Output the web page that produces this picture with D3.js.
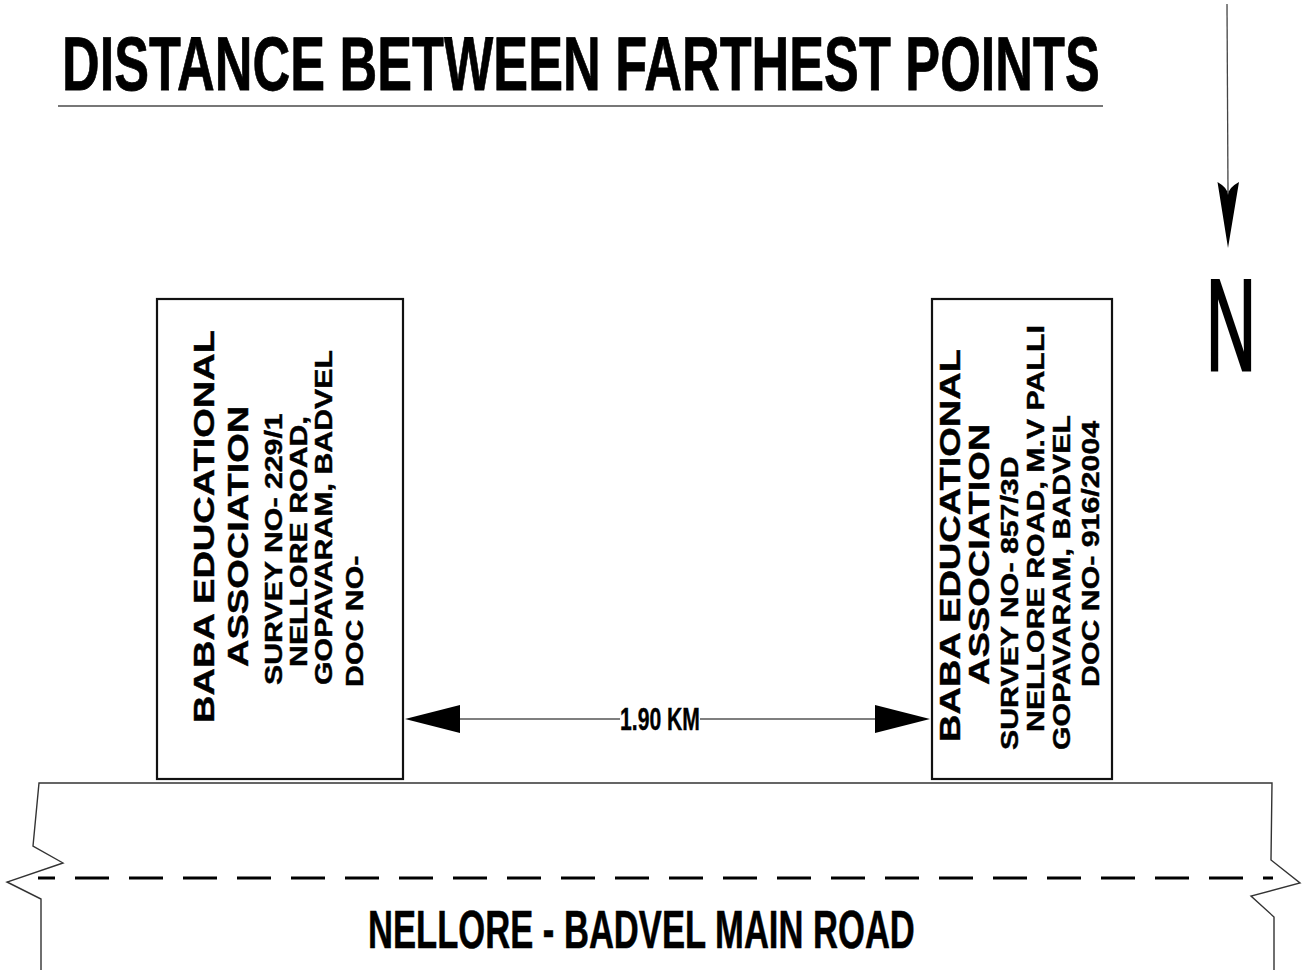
<!DOCTYPE html>
<html><head><meta charset="utf-8">
<script src="https://cdn.jsdelivr.net/npm/d3@7/dist/d3.min.js"></script>
<style>html,body{margin:0;padding:0;background:#fff}svg{display:block}</style>
</head><body>
<svg id="c" width="1305" height="973"></svg>
<script>
// ---------- data ----------
const titleText = "DISTANCE BETWEEN FARTHEST POINTS";
const plotNames = ["BABA EDUCATIONAL", "ASSOCIATION"];
const leftDetails = ["SURVEY NO- 229/1", "NELLORE ROAD,", "GOPAVARAM, BADVEL", "DOC NO-"];
const rightDetails = ["SURVEY NO- 857/3D", "NELLORE ROAD, M.V PALLI", "GOPAVARAM, BADVEL", "DOC NO- 916/2004"];
const distanceKm = [0, 1.90];
const distanceLabel = "1.90 KM";
const roadName = "NELLORE - BADVEL MAIN ROAD";
const northLabel = "N";

// ---------- layout ----------
const svg = d3.select("#c");
const FONT = "'Liberation Sans', Arial, Helvetica, sans-serif";

// distance scale: 0 km at right edge of left plot, 1.90 km at left edge of right plot
const x = d3.scaleLinear().domain(distanceKm).range([405, 930]);

// fit a text into a given width / cap height using a transform (condensed look)
function fitText(sel, t, x0, base, width, capH, weight) {
  const fs = 40;
  const node = sel.append("text")
    .attr("font-family", FONT).attr("font-weight", weight).attr("font-size", fs)
    .attr("fill", "#000").text(t);
  const w = node.node().getComputedTextLength();
  const sy = capH / (fs * 0.716);
  node.attr("transform", `translate(${x0},${base}) scale(${width / w},${sy})`);
  return node;
}

// title
fitText(svg, titleText, 62, 90, 1038, 55, "bold").attr("stroke", "#000").attr("stroke-width", 0.4);
svg.append("line").attr("x1", 58).attr("x2", 1103).attr("y1", 106).attr("y2", 106)
  .attr("stroke", "#777").attr("stroke-width", 2);

// north arrow
svg.append("line").attr("x1", 1227).attr("y1", 4).attr("x2", 1228).attr("y2", 192)
  .attr("stroke", "#444").attr("stroke-width", 1.3);
svg.append("path")
  .attr("d", "M1217.5,182 Q1228,188 1228,195 Q1228,188 1239,182 L1228,248 Z")
  .attr("fill", "#000");
fitText(svg, northLabel, 1206, 370, 50, 93, "normal").attr("stroke", "#000").attr("stroke-width", 0.9);

// plots (boxes)
const plots = [
  {x0: 157, x1: 403, lines: plotNames.concat(leftDetails),
   pos: [[214,723],[248,667],[282,685],[307,667],[332,685],[363,687]]},
  {x0: 932, x1: 1112, lines: plotNames.concat(rightDetails),
   pos: [[960,742],[989,685],[1018,750],[1044,732],[1070,750],[1099,687]]}
];
const boxTop = 299, boxBottom = 779;

plots.forEach(p => {
  svg.append("rect")
    .attr("x", p.x0).attr("y", boxTop)
    .attr("width", p.x1 - p.x0).attr("height", boxBottom - boxTop)
    .attr("fill", "none").attr("stroke", "#111").attr("stroke-width", 2.2);
  p.lines.forEach((t, i) => {
    const big = i < 2;
    svg.append("text")
      .attr("transform", `translate(${p.pos[i][0]},${p.pos[i][1]}) rotate(-90) scale(1.29,1)`)
      .attr("font-family", FONT).attr("font-weight", "bold")
      .attr("font-size", big ? 29.5 : 23.5)
      .attr("fill", "#000").attr("stroke", "#000").attr("stroke-width", 0.4)
      .text(t);
  });
});

// dimension line
const dimY = 719;
const labelLeft = 620, labelRight = 700;
svg.append("line").attr("x1", x(0) + 40).attr("x2", labelLeft).attr("y1", dimY).attr("y2", dimY)
  .attr("stroke", "#555").attr("stroke-width", 1.6);
svg.append("line").attr("x1", labelRight).attr("x2", x(1.90) - 40).attr("y1", dimY).attr("y2", dimY)
  .attr("stroke", "#555").attr("stroke-width", 1.6);
svg.append("path")
  .attr("d", `M${x(0)},${dimY} L${x(0) + 55},${dimY - 14} L${x(0) + 55},${dimY + 14} Z`)
  .attr("fill", "#000");
svg.append("path")
  .attr("d", `M${x(1.90)},${dimY} L${x(1.90) - 55},${dimY - 14} L${x(1.90) - 55},${dimY + 14} Z`)
  .attr("fill", "#000");
fitText(svg, distanceLabel, labelLeft, 730, labelRight - labelLeft, 22, "bold")
  .attr("stroke", "#000").attr("stroke-width", 0.5);

// road
const line = d3.line();
svg.append("path")
  .attr("d", line([[41,970],[41,899],[7,882],[63,863],[33,846],[39,783],[1272,783],[1271,860],[1300,883],[1251,896],[1274,917],[1274,970]]))
  .attr("fill", "none").attr("stroke", "#333").attr("stroke-width", 1.4);
svg.append("line").attr("x1", 38).attr("x2", 1273).attr("y1", 878).attr("y2", 878)
  .attr("stroke", "#000").attr("stroke-width", 3)
  .attr("stroke-dasharray", "34,20").attr("stroke-dashoffset", 17);
fitText(svg, roadName, 368, 948, 547, 38, "bold").attr("stroke", "#000").attr("stroke-width", 0.4);
</script>
</body></html>
